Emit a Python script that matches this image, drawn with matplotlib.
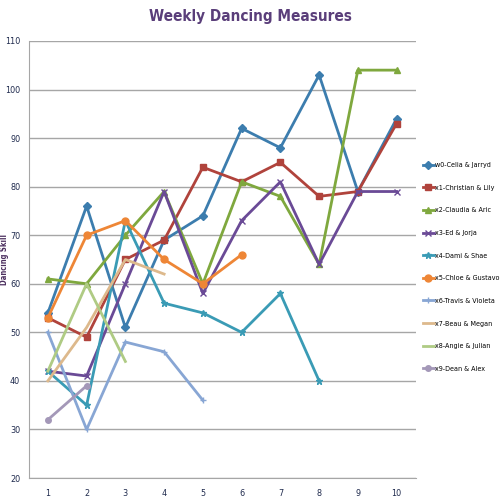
import matplotlib
matplotlib.use('Agg')
import matplotlib.pyplot as plt

plt.rcParams['font.family'] = ['DejaVu Sans']
plt.rcParams['font.stretch'] = 'condensed'

weeks = [1, 2, 3, 4, 5, 6, 7, 8, 9, 10]

names = ['w0-Celia & Jarryd', 'x1-Christian & Lily', 'x2-Claudia & Aric',
         'x3-Ed & Jorja', 'x4-Dami & Shae', 'x5-Chloe & Gustavo',
         'x6-Travis & Violeta', 'x7-Beau & Megan', 'x8-Angie & Julian',
         'x9-Dean & Alex']

celia = [54, 76, 51, 69, 74, 92, 88, 103, 79, 94]
christian = [53, 49, 65, 69, 84, 81, 85, 78, 79, 93]
claudia = [61, 60, 70, 79, 60, 81, 78, 64, 104, 104]
ed = [42, 41, 60, 79, 58, 73, 81, 64, 79, 79]
dami = [42, 35, 73, 56, 54, 50, 58, 40]
chloe = [53, 70, 73, 65, 60, 66]
travis = [50, 30, 48, 46, 36]
beau = [40, 51, 65, 62]
angie = [42, 60, 44]
dean = [32, 39]

series = [celia, christian, claudia, ed, dami, chloe, travis, beau, angie, dean]
colors = ['#3C7DAE', '#B0433C', '#7FA83E', '#6A4A96', '#3A9BB5', '#EE8636',
          '#88A6D4', '#DDB98C', '#AFCB84', '#A498B8']
markers = ['D', 's', '^', 'x', '*', 'o', '+', '', '', 'o']
msizes = [4, 5, 5, 5, 5, 5, 5, 0, 0, 4]

fig = plt.figure(figsize=(5, 5), dpi=100)
ax = fig.add_axes([0.057, 0.044, 0.775, 0.874])

for vals, name, c, m, ms in zip(series, names, colors, markers, msizes):
    ax.plot(weeks[:len(vals)], vals, color=c, marker=m, markersize=ms,
            linewidth=2, label=name)

ax.set_xlim(0.5, 10.5)
ax.set_ylim(20, 110)
ax.set_xticks(weeks)
ax.set_yticks(range(20, 111, 10))
ax.tick_params(length=0, labelsize=6.5, colors='#1F2A4D')
ax.tick_params(axis='y', pad=6)
ax.tick_params(axis='x', pad=8)
ax.grid(axis='y', color='#A6A6A6', linewidth=1)
ax.set_axisbelow(True)
for s in ['top', 'right']:
    ax.spines[s].set_visible(False)
for s in ['left', 'bottom']:
    ax.spines[s].set_color('#A6A6A6')

ax.set_ylabel('Dancing Skill', fontsize=5.5, fontweight='bold', color='#4B2E5E')
ax.yaxis.set_label_coords(-0.05, 0.5)
fig.text(0.5, 0.968, 'Weekly Dancing Measures', ha='center', va='center',
         fontsize=11, fontweight='bold', color='#5A3E7A')

fig.legend(loc='center left', bbox_to_anchor=(0.845, 0.466), frameon=False,
           fontsize=5.1, handlelength=1.6, handletextpad=0.15, labelspacing=2.35,
           borderaxespad=0, borderpad=0)

plt.savefig('out.png', dpi=100)
